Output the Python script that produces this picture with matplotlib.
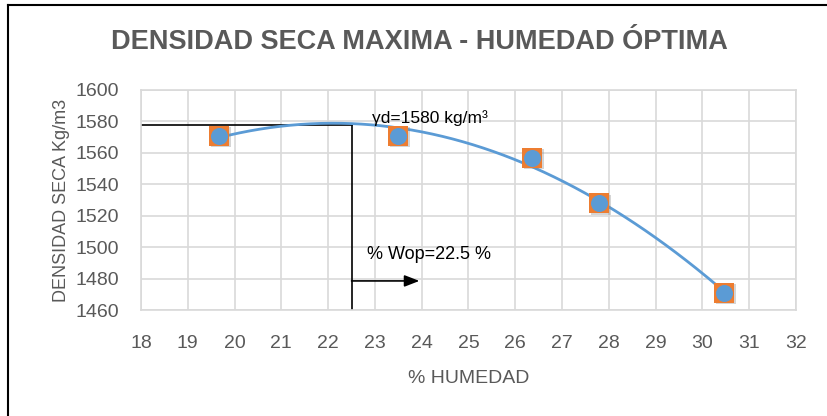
"""Densidad seca maxima vs humedad optima (Proctor curve)."""
import numpy as np
import matplotlib
matplotlib.use("Agg")
import matplotlib.pyplot as plt
from matplotlib.lines import Line2D

# data
humedad = [19.67, 23.50, 26.35, 27.79, 30.46]
densidad = [1571, 1571, 1557, 1528, 1471]
w_op = 22.5
gd_max = 1578
xticks = list(range(18, 33))
yticks = list(range(1460, 1601, 20))

GRAY_TXT = "#595959"
GRID = "#D9D9D9"
BLUE = "#5B9BD5"
ORANGE = "#ED7D31"

plt.rcParams["font.family"] = ["Liberation Sans", "DejaVu Sans"]

fig = plt.figure(figsize=(8.27, 4.16), dpi=100)
ax = fig.add_axes([0.1705, 0.2548, 0.792, 0.5289])

# polynomial trendline (order 2) as Excel draws it
coef = np.polyfit(humedad, densidad, 2)
xs = np.linspace(min(humedad), max(humedad), 200)
ax.plot(xs, np.polyval(coef, xs), color=BLUE, lw=2, zorder=3)

# markers: orange square under blue circle, with a faint shadow
ax.scatter(np.array(humedad) + 0.04, np.array(densidad) - 0.9, marker="s", s=200,
           color="#888888", alpha=0.35, zorder=3, linewidths=0)
ax.scatter(humedad, densidad, marker="s", s=190, color=ORANGE, zorder=4, linewidths=0)
ax.scatter(humedad, densidad, marker="o", s=150, color=BLUE, zorder=5, linewidths=0)

# optimum guides
ax.plot([18, w_op], [gd_max, gd_max], color="black", lw=1.2, zorder=2)
ax.plot([w_op, w_op], [gd_max, 1460], color="black", lw=1.2, zorder=2)
ax.annotate("", xy=(23.95, 1478.5), xytext=(w_op, 1478.5),
            arrowprops=dict(arrowstyle="-|>,head_length=0.9,head_width=0.35",
                            color="black", lw=1.2, shrinkA=0, shrinkB=0))
ax.text(22.82, 1495, "% Wop=22.5 %", fontsize=13, color="black",
        va="center", ha="left")
ax.text(22.93, 1582, "\u03b3d=1580 kg/m\u00b3", fontsize=12.5, color="black",
        va="center", ha="left")

ax.set_xlim(18, 32)
ax.set_ylim(1460, 1600)
ax.set_xticks(xticks)
ax.set_yticks(yticks)
ax.grid(True, color=GRID, lw=1.2)
ax.set_axisbelow(True)
for s in ax.spines.values():
    s.set_color(GRID)
    s.set_linewidth(1.2)
ax.tick_params(length=0, labelsize=14, labelcolor=GRAY_TXT)
ax.tick_params(axis="x", pad=18)
ax.tick_params(axis="y", pad=16)

ax.set_xlabel("% HUMEDAD", fontsize=14, color=GRAY_TXT, labelpad=13)
ax.set_ylabel("DENSIDAD SECA Kg/m3", fontsize=13, color=GRAY_TXT, labelpad=4)

fig.text(0.507, 0.9, "DENSIDAD SECA MAXIMA - HUMEDAD \u00d3PTIMA", ha="center",
         va="center", fontsize=19.5, color=GRAY_TXT, fontweight="bold")

# outer frame (left and top)
fig.add_artist(Line2D([0.0097, 0.0097], [0, 0.988], transform=fig.transFigure,
                      color="black", lw=1.5))
fig.add_artist(Line2D([0.0097, 1], [0.988, 0.988], transform=fig.transFigure,
                      color="black", lw=1.5))

fig.savefig("out.png", dpi=100)
